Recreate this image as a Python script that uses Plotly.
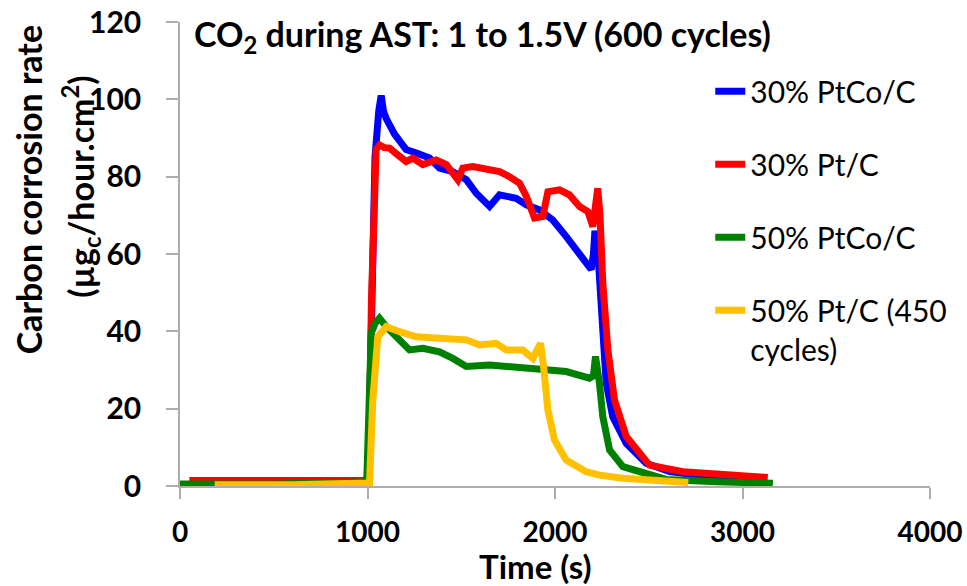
import plotly.graph_objects as go

# ---- data ----
blue_x = [60, 500, 995, 1005, 1020, 1040, 1060, 1073, 1085, 1100, 1144, 1206, 1268, 1331, 1384,
          1455, 1527, 1580, 1651, 1704, 1793, 1847, 1917, 1988, 2060, 2131, 2184, 2193, 2205,
          2213, 2228, 2246, 2273, 2308, 2380, 2486, 2611, 2800, 3000, 3130]
blue_y = [1.0, 1.0, 1.0, 5, 50, 85, 97, 101, 97, 95, 91, 87, 86, 84.8, 82.2,
          81.3, 79.2, 75.7, 72.3, 75.3, 74.4, 72.7, 71.4, 68.8, 64.5, 59.8, 56.7, 56, 60,
          66, 61, 43.8, 26.6, 17.9, 11, 5.9, 3.7, 2.6, 2.0, 1.5]

red_x = [50, 500, 1000, 1008, 1021, 1046, 1064, 1090, 1117, 1162, 1206, 1242, 1295, 1366, 1420,
         1482, 1508, 1562, 1633, 1704, 1757, 1811, 1847, 1891, 1935, 1962, 2024, 2077, 2131,
         2175, 2202, 2215, 2228, 2240, 2255, 2282, 2317, 2380, 2504, 2682, 2948, 3135]
red_y = [1.4, 1.4, 1.4, 5, 48, 87, 88.2, 87.5, 87.4, 85.6, 83.9, 84.8, 83.1, 84.3, 83.1,
         79.2, 82.2, 82.6, 81.8, 81.3, 80, 78.3, 74.9, 69.3, 69.7, 76.1, 76.6, 75.3, 72.3,
         71, 67.1, 72, 77, 70, 52.4, 35.2, 22.3, 12.8, 5.4, 3.7, 2.8, 2.2]

green_x = [0, 500, 996, 1010, 1020, 1040, 1064, 1100, 1171, 1224, 1295, 1384, 1455, 1527, 1651,
           1775, 1917, 2060, 2184, 2205, 2216, 2228, 2237, 2255, 2291, 2362, 2468, 2593, 2860, 3162]
green_y = [0.5, 0.5, 1.1, 20, 39.5, 42, 43.4, 41.2, 37.8, 35.2, 35.6, 34.7, 33, 30.9, 31.3,
           30.9, 30.5, 29.6, 27.9, 28.5, 33.5, 30, 26.6, 17.9, 9.3, 5, 3.3, 1.7, 1.1, 0.7]

yellow_x = [185, 600, 1011, 1028, 1055, 1100, 1171, 1260, 1384, 1527, 1597, 1686, 1740, 1828,
            1882, 1923, 1939, 1962, 1997, 2060, 2166, 2237, 2362, 2471, 2711]
yellow_y = [0.3, 0.3, 0.8, 22, 38.6, 41.2, 39.9, 38.6, 38.2, 37.8, 36.5, 36.9, 35.2, 35.2,
            33, 36.9, 30.9, 19.7, 11.9, 6.7, 3.7, 2.8, 2.0, 1.6, 0.9]

series_names = ["30% PtCo/C", "30% Pt/C", "50% PtCo/C", "50% Pt/C (450<br>cycles)"]
series_colors = ["#0000FF", "#FF0000", "#008000", "#FFC000"]
x_ticks = [0, 1000, 2000, 3000, 4000]
y_ticks = [0, 20, 40, 60, 80, 100, 120]

FONT = "Lato"

fig = go.Figure()
for name, color, xs, ys in zip(series_names, series_colors,
                               [blue_x, red_x, green_x, yellow_x],
                               [blue_y, red_y, green_y, yellow_y]):
    fig.add_trace(go.Scatter(x=xs, y=ys, mode="lines", name=name, legendgroup=name,
                             line=dict(color=color, width=7)))

axis_color = "#ADADAD"
fig.update_layout(
    width=967, height=586,
    margin=dict(l=180, r=37, t=22, b=100),
    plot_bgcolor="white", paper_bgcolor="white",
    font=dict(family=FONT, color="black"),
    showlegend=True,
    legend=dict(x=0.707, y=0.907, xanchor="left", yanchor="top",
                font=dict(family=FONT, size=30, color="black"),
                tracegroupgap=31, valign="top", bgcolor="rgba(0,0,0,0)"),
    xaxis=dict(range=[0, 4000], tickvals=x_ticks, showgrid=False, zeroline=False,
               showline=True, linecolor=axis_color, linewidth=1.5, automargin=False,
               ticks="outside", ticklen=11, tickcolor=axis_color, tickwidth=1.5,
               ticklabelstandoff=10,
               tickfont=dict(family=FONT, size=28, color="black", weight="bold")),
    yaxis=dict(range=[0, 120], tickvals=y_ticks, showgrid=False, zeroline=False,
               showline=True, linecolor=axis_color, linewidth=1.5, automargin=False,
               ticks="outside", ticklen=12, tickcolor=axis_color, tickwidth=1.5,
               ticklabelstandoff=19,
               tickfont=dict(family=FONT, size=30, color="black", weight="bold")),
)

fig.add_annotation(text="<b>CO<sub>2</sub> during AST: 1 to 1.5V (600 cycles)</b>",
                   xref="paper", yref="paper", x=0.016, y=0.97,
                   xanchor="left", yanchor="middle", showarrow=False,
                   font=dict(family=FONT, size=34, color="black"))
fig.add_annotation(text="<b>Time (s)</b>", xref="paper", yref="paper",
                   x=0.474, y=-0.172, xanchor="center", yanchor="middle",
                   showarrow=False, font=dict(family=FONT, size=33, color="black"))
fig.add_annotation(text="<b>Carbon corrosion rate</b>", xref="paper", yref="paper",
                   x=-0.2008, y=0.638, xanchor="center", yanchor="middle", textangle=-90,
                   showarrow=False, font=dict(family=FONT, size=34, color="black"))
fig.add_annotation(text="<b>(µg<sub>c</sub>/hour.cm<sup>2</sup>)</b>", xref="paper", yref="paper",
                   x=-0.132, y=0.645, xanchor="center", yanchor="middle", textangle=-90,
                   showarrow=False, font=dict(family=FONT, size=34, color="black"))

fig.write_html("out.html")
